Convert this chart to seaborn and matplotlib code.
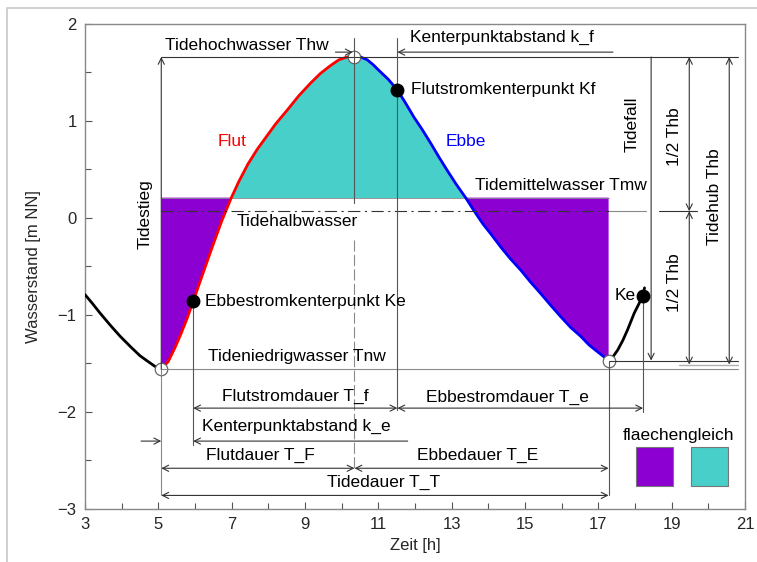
import matplotlib
matplotlib.use("Agg")
import matplotlib.pyplot as plt
import seaborn as sns
import pandas as pd
from matplotlib.patches import Rectangle

# ---------------- data ----------------
pre_x = [3.00, 3.20, 3.41, 3.70, 3.96, 4.25, 4.50, 4.72, 4.91, 5.08]
pre_y = [-0.79, -0.88, -0.98, -1.11, -1.22, -1.33, -1.42, -1.48, -1.53, -1.56]

flut_x = [5.08, 5.27, 5.45, 5.60, 5.78, 5.95, 6.19, 6.46, 6.73, 6.98, 7.20, 7.45, 7.70,
          7.95, 8.20, 8.51, 8.83, 9.15, 9.42, 9.69, 9.92, 10.15, 10.35]
flut_y = [-1.56, -1.48, -1.34, -1.21, -1.04, -0.86, -0.60, -0.31, -0.03, 0.20, 0.38, 0.56, 0.71,
          0.84, 0.97, 1.11, 1.26, 1.39, 1.49, 1.57, 1.63, 1.66, 1.67]

ebbe_x = [10.35, 10.52, 10.70, 10.86, 11.02, 11.27, 11.52, 11.75, 11.97, 12.20, 12.43, 12.65,
          12.88, 13.12, 13.38, 13.60, 13.85, 14.10, 14.34, 14.60, 14.89, 15.15, 15.43, 15.70,
          15.98, 16.25, 16.52, 16.75, 16.98, 17.15, 17.28]
ebbe_y = [1.67, 1.66, 1.63, 1.58, 1.52, 1.43, 1.32, 1.18, 1.04, 0.91, 0.77, 0.63,
          0.49, 0.35, 0.21, 0.08, -0.06, -0.18, -0.30, -0.42, -0.54, -0.66, -0.78, -0.90,
          -1.02, -1.13, -1.22, -1.31, -1.38, -1.43, -1.47]

post_x = [17.28, 17.40, 17.53, 17.67, 17.80, 17.98, 18.10, 18.22, 18.26]
post_y = [-1.47, -1.43, -1.36, -1.26, -1.15, -0.98, -0.89, -0.80, -0.72]

# characteristic points
thw_x, thw_y = 10.35, 1.66      # Tidehochwasser
tnw_x, tnw_y = 5.08, -1.56      # Tideniedrigwasser
tnw2_x, tnw2_y = 17.28, -1.47   # next low water
ke_x, ke_y = 5.95, -0.86        # Ebbestromkenterpunkt
kf_x, kf_y = 11.52, 1.32        # Flutstromkenterpunkt
ke2_x, ke2_y = 18.22, -0.80     # next Ebbestromkenterpunkt
tmw = 0.21                      # Tidemittelwasser
thalb = 0.07                    # Tidehalbwasser

x_ticks = [3, 5, 7, 9, 11, 13, 15, 17, 19, 21]
y_ticks = [-3, -2, -1, 0, 1, 2]

PURPLE = "#8C00D2"
TEAL = "#48CFC9"
DARK = "#333333"
GREY = "#8a8a8a"

# ---------------- figure ----------------
sns.set_theme(style="white")
plt.rcParams["font.family"] = ["Liberation Sans", "DejaVu Sans"]

fig = plt.figure(figsize=(7.57, 5.62), dpi=100)
ax = fig.add_axes([85 / 757, 1 - 509 / 562, 660 / 757, 485 / 562])

# border of the picture
fig.add_artist(Rectangle((7 / 757, -0.1), 1.2, 1 - 8 / 562 + 0.1, transform=fig.transFigure,
                         fill=False, edgecolor="#c8c8c8", lw=1.2))

main = pd.DataFrame({"x": flut_x + ebbe_x[1:], "y": flut_y + ebbe_y[1:]})

# fills
ax.fill_between(main["x"], main["y"], tmw, where=main["y"] >= tmw, interpolate=True,
                color=TEAL, lw=0, zorder=1)
ax.fill_between(main["x"], main["y"], tmw, where=main["y"] <= tmw, interpolate=True,
                color=PURPLE, lw=0, zorder=1)

# curves
kw = dict(ax=ax, lw=2.0, sort=False, estimator=None, zorder=4)
sns.lineplot(x=pre_x, y=pre_y, color="black", **kw)
sns.lineplot(x=post_x, y=post_y, color="black", **kw)
sns.lineplot(x=flut_x, y=flut_y, color="#ff0000", **kw)
sns.lineplot(x=ebbe_x, y=ebbe_y, color="#0000ff", **kw)


def hline(y, x0, x1, color=DARK, lw=0.8, ls="-", z=6):
    ax.plot([x0, x1], [y, y], color=color, lw=lw, ls=ls, zorder=z)


def vline(x, y0, y1, color=DARK, lw=0.8, ls="-", z=6):
    ax.plot([x, x], [y0, y1], color=color, lw=lw, ls=ls, zorder=z)


def arrow(p0, p1, style="<->"):
    ax.annotate("", xy=p1, xytext=p0,
                arrowprops=dict(arrowstyle=style, color=DARK, lw=0.8,
                                shrinkA=0, shrinkB=0, mutation_scale=11),
                zorder=7)


# reference lines
hline(thw_y, tnw_x, 20.8)
hline(tnw_y, tnw_x, 20.8, color=GREY)
hline(tnw2_y, tnw2_x, 20.8)
hline(-1.515, 19.2, 20.8, color="#b0b0b0", lw=1.0)
hline(tmw, tnw_x, tnw2_x, color=GREY, lw=0.6, z=2)
hline(thalb, tnw_x, tnw2_x, color=DARK, ls=(0, (11, 4, 2, 4)))
hline(thalb, tnw2_x, 18.3, color=GREY)
hline(thalb, 18.65, 19.7, color=DARK)

vline(tnw_x, tnw_y, -2.86, color=GREY)
vline(thw_x, 1.86, 0.15, color="#555555")
vline(thw_x, -0.23, -2.58, color=GREY, ls=(0, (10, 3)))
vline(kf_x, 1.86, -1.98, color="#555555")
vline(ke_x, ke_y, -2.34, color="#555555")
vline(tnw2_x, tnw2_y, -2.86, color="#555555")
vline(ke2_x, ke2_y, -2.0, color="#555555")

# dimension arrows
arrow((tnw_x, tnw_y), (tnw_x, thw_y), "->")           # Tidestieg
arrow((18.44, thw_y), (18.44, tnw2_y), "->")          # Tidefall
arrow((19.48, thw_y), (19.48, thalb))                 # 1/2 Thb
arrow((19.48, thalb), (19.48, -1.51))                 # 1/2 Thb
arrow((20.57, thw_y), (20.57, -1.51))                 # Tidehub
arrow((9.83, 1.71), (thw_x - 0.05, 1.71), "->")       # Thw pointer
arrow((17.4, 1.71), (kf_x, 1.71), "->")               # k_f
arrow((ke_x, -1.96), (kf_x, -1.96))                   # Flutstromdauer
arrow((kf_x, -1.96), (ke2_x, -1.96))                  # Ebbestromdauer
arrow((4.53, -2.30), (tnw_x, -2.30), "->")            # k_e left
arrow((11.8, -2.30), (ke_x, -2.30), "->")             # k_e right
arrow((tnw_x, -2.58), (thw_x, -2.58))                 # Flutdauer
arrow((thw_x, -2.58), (tnw2_x, -2.58))                # Ebbedauer
arrow((tnw_x, -2.86), (tnw2_x, -2.86))                # Tidedauer

# characteristic points
for px, py in [(tnw_x, tnw_y), (thw_x, thw_y), (tnw2_x, tnw2_y)]:
    ax.plot(px, py, marker="o", ms=9, mfc="white", mec="#666666", mew=0.9, zorder=5)
for px, py in [(ke_x, ke_y), (kf_x, kf_y), (ke2_x, ke2_y)]:
    ax.plot(px, py, marker="o", ms=9, mfc="black", mec="black", zorder=8)

# legend squares
ax.add_patch(Rectangle((18.03, -2.76), 1.01, 0.40, facecolor=PURPLE, edgecolor="#777777", lw=0.8, zorder=6))
ax.add_patch(Rectangle((19.53, -2.76), 1.01, 0.40, facecolor=TEAL, edgecolor="#777777", lw=0.8, zorder=6))

# texts
fs = 12.5
T = dict(fontsize=fs, color="black", va="center", zorder=9)
ax.text(7.42, 1.78, "Tidehochwasser Thw", ha="center", **T)
ax.text(14.37, 1.86, "Kenterpunktabstand k_f", ha="center", **T)
ax.text(7.02, 0.79, "Flut", ha="center", **{**T, "color": "#ff0000"})
ax.text(13.38, 0.79, "Ebbe", ha="center", **{**T, "color": "#0000ff"})
ax.text(11.88, 1.32, "Flutstromkenterpunkt Kf", ha="left", **T)
ax.text(15.98, 0.34, "Tidemittelwasser Tmw", ha="center", **T)
ax.text(8.79, -0.04, "Tidehalbwasser", ha="center", **T)
ax.text(6.28, -0.86, "Ebbestromkenterpunkt Ke", ha="left", **T)
ax.text(8.77, -1.43, "Tideniedrigwasser Tnw", ha="center", **T)
ax.text(17.73, -0.80, "Ke", ha="center", **T)
ax.text(8.74, -1.84, "Flutstromdauer T_f", ha="center", **T)
ax.text(14.53, -1.85, "Ebbestromdauer T_e", ha="center", **T)
ax.text(8.77, -2.15, "Kenterpunktabstand k_e", ha="center", **T)
ax.text(7.78, -2.45, "Flutdauer T_F", ha="center", **T)
ax.text(13.71, -2.45, "Ebbedauer T_E", ha="center", **T)
ax.text(11.15, -2.73, "Tidedauer T_T", ha="center", **T)
ax.text(19.2, -2.24, "flaechengleich", ha="center", **T)
ax.text(4.64, 0.04, "Tidestieg", ha="center", rotation=90, **T)
ax.text(17.93, 0.97, "Tidefall", ha="center", rotation=90, **T)
ax.text(19.07, 0.84, "1/2 Thb", ha="center", rotation=90, **T)
ax.text(19.07, -0.67, "1/2 Thb", ha="center", rotation=90, **T)
ax.text(20.16, 0.22, "Tidehub Thb", ha="center", rotation=90, **T)

# axes styling
ax.set_xlim(3, 21)
ax.set_ylim(-3, 2)
ax.set_xticks(x_ticks)
ax.set_xticks([v for v in range(4, 21, 2)], minor=True)
ax.set_yticks(y_ticks)
ax.set_yticks([-2.5, -1.5, -0.5, 0.5, 1.5], minor=True)
ax.set_xticklabels([str(v) for v in x_ticks])
ax.set_yticklabels(["\u22123", "\u22122", "\u22121", "0", "1", "2"])
ax.tick_params(which="major", direction="in", length=5, width=0.8, color="#555555",
               labelsize=12, pad=6, bottom=True, left=True, top=False, right=False)
ax.tick_params(which="minor", direction="in", length=4, width=0.8, color="#555555",
               bottom=True, left=True, top=False, right=False)
for s in ax.spines.values():
    s.set_color("#888888")
    s.set_linewidth(1.0)
ax.set_xlabel("Zeit [h]", fontsize=12, labelpad=4)
ax.set_ylabel("Wasserstand [m NN]", fontsize=12, labelpad=12)
ax.grid(False)

fig.savefig("out.png", dpi=100)
